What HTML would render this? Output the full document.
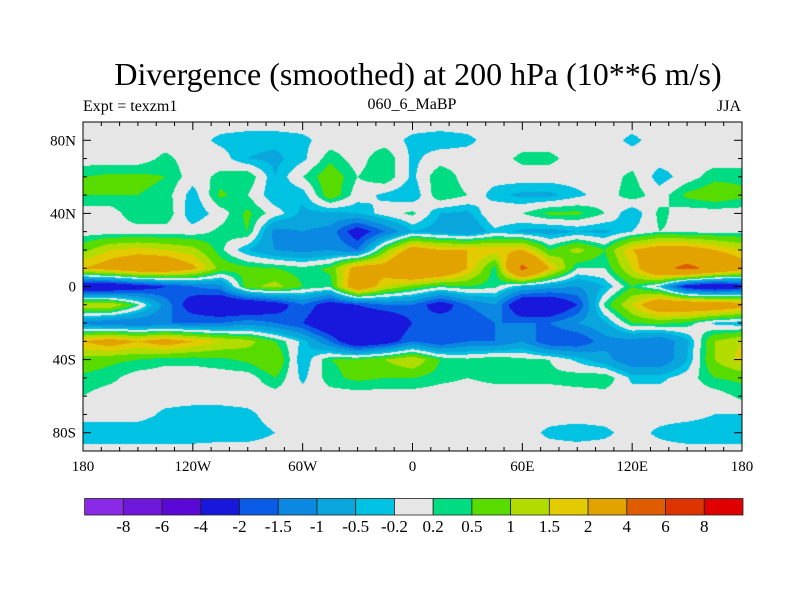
<!DOCTYPE html>
<html><head><meta charset="utf-8"><style>
body{margin:0;background:#fff;width:800px;height:600px;overflow:hidden;position:relative;font-family:"Liberation Serif",serif;}
.t{position:absolute;white-space:nowrap;color:#000;}
</style></head><body>
<div class="t" style="left:0;width:836px;text-align:center;top:56px;font-size:32px;">Divergence (smoothed) at 200 hPa (10**6 m/s)</div>
<div class="t" style="left:83px;top:98px;font-size:16px;">Expt = texzm1</div>
<div class="t" style="left:312px;width:200px;text-align:center;top:96px;font-size:16px;">060_6_MaBP</div>
<div class="t" style="left:700px;width:41px;text-align:right;top:98px;font-size:16px;">JJA</div>
<canvas id="map" width="659" height="329" style="position:absolute;left:83px;top:122px;"></canvas>
<svg id="ov" width="800" height="600" style="position:absolute;left:0;top:0"></svg>
<script>
const lons=[-180,-165,-150,-135,-120,-105,-90,-75,-60,-45,-30,-15,0,15,30,45,60,75,90,105,120,135,150,165,180];
const lats=[90,80,70,60,50,40,30,20,10,0,-10,-20,-30,-40,-50,-60,-70,-80,-90];
const row90=[0,0,0,0,0,0,0,0,0,0,0,0,0,0,0,0,0,0,0,0,0,0,0,0,0];
const row80=[0,0,0,0,0,-0.3,-0.4,-0.4,-0.3,0,0,0,-0.3,-0.4,-0.3,0,0,0,0,0,-0.3,0,0,0,0];
const row70=[0,0,0,0.3,0,0,-0.5,-0.6,-0.3,0.4,0,0.5,-0.3,0,0,0,0.3,0.3,0,0,0,0,0,0,0];
const row60=[0.5,0.6,0.6,0.5,0,0.3,0.5,-0.5,0.2,0.8,0.2,0.5,-0.3,0.5,0,0,0,0,0,0,0.3,-0.4,0,0.4,0.4];
const row50=[0.5,0.5,0.5,0.4,-0.4,0.6,0.2,-0.5,-0.4,0.8,0,-0.3,-0.5,0.5,0.2,-0.4,-0.6,-0.6,-0.3,0,0.4,0,0.6,0.8,0.6];
const row40=[0,0,0.5,0.5,-0.5,0,0.6,0,-0.6,-0.6,-0.5,0,0.3,-0.5,-0.6,0.2,0.2,0.6,0.6,0.2,-0.5,0.3,0,0,0];
const row30=[0,0,0,0,0,0.3,0.5,-1.2,-1.0,-1.2,-2.5,-1.5,-0.5,-0.7,-1.0,-0.3,-0.6,-0.7,-0.5,-0.6,-0.2,0.2,0.1,0.1,0.1];
const row20=[0.8,1.5,1.7,1.5,1.2,0.3,-0.5,-1.0,-1.2,-1.0,-1.5,0.8,2.5,2.0,2.0,1.8,2.0,0.5,1.2,0.5,2.0,2.5,2.5,2.0,1.5];
const row10=[2.0,2.5,3,3,2.2,0.8,0.6,0.5,0.3,0.6,2.5,2.5,4,3.5,2.0,0.3,4.5,2.0,0.2,0.2,1.5,3.5,4.5,3.5,2.5];
const row0=[-3,-3,-2.5,-2,-1.5,-1.2,0.8,1.2,0.5,0.3,3.0,1.5,0.8,0.3,0.5,0.3,-0.5,-0.8,-1.0,-0.5,0.5,-0.3,-2.5,-3,-2.5];
const rowS10=[1.5,1.5,0.3,-1.2,-2.5,-3,-3,-2.5,-1.5,-2.5,-2,-1.5,-1.5,-2.5,-1.5,-1.0,-3,-3,-2.0,0.3,1.5,3,3,3,2.5];
const rowS20=[-1.2,-1.5,-1.5,-1.5,-1.5,-1.5,-1.2,-1.5,-2,-3,-3,-3,-2,-1.5,-2,-1.5,-1.5,-1.5,-1.0,-0.6,0.5,0.6,0.4,-0.3,-0.5];
const rowS30=[2.0,2.5,2.0,2.5,2.0,1.5,1.2,0.5,-0.3,-1.5,-3,-2.5,-1.5,-2,-1.5,-1.5,-1.0,-2,-2,-1.2,-1.2,-1.5,-0.6,1.0,1.5];
const rowS40=[0.8,0.6,0.5,0.3,0.3,0.4,0.6,1.0,-0.5,0.5,0.6,1.0,1.5,0.5,0.3,0.5,0.3,0.2,-0.3,-0.8,-1.5,-1.5,-0.5,1.0,1.7];
const rowS50=[0.4,0.3,0,0,0,0,0,0.5,-0.3,0.4,0.6,0.5,0.5,0.3,0.2,0.3,0.3,0.3,0.4,0.5,-0.3,-0.3,0,0.5,0.6];
const rowS60=[0.2,0,0,0,0,0,0,0,0,0,0,0,0,0,0,0,0,0,0,0,0,0,0,0,0.3];
const rowS70=[0,0,0,-0.3,-0.4,-0.4,-0.3,0,0,0,0,0,0,0,0,0,0,0,0,0,0,0,0,-0.2,-0.2];
const rowS80=[-0.5,-0.5,-0.5,-0.5,-0.5,-0.4,-0.4,-0.2,0,0,0,0,0,0,0,0,0,-0.3,-0.4,-0.3,0,-0.3,-0.5,-0.5,-0.5];
const rowS90=[0,0,0,0,0,0,0,0,0,0,0,0,0,0,0,0,0,0,0,0,0,0,0,0,0];
const levels=[-8,-6,-4,-2,-1.5,-1,-0.5,-0.2,0.2,0.5,1,1.5,2,4,6,8];
const levelLabels=["-8","-6","-4","-2","-1.5","-1","-0.5","-0.2","0.2","0.5","1","1.5","2","4","6","8"];
const colors=["#8a2ae6","#6e18dc","#5a08d6","#1818dc","#0a5ce6","#0a88e2","#08a6dc","#00c2e2","#e6e6e6","#00dc82","#58dc00","#b2dc00","#e2cc00","#e2a200","#e05c00","#e03400","#e00000"];
const xLabels=["180","120W","60W","0","60E","120E","180"];
const xLabelLons=[-180,-120,-60,0,60,120,180];
const yLabels=["80N","40N","0","40S","80S"];
const yLabelLats=[80,40,0,-40,-80];
const grid=[row90,row80,row70,row60,row50,row40,row30,row20,row10,row0,rowS10,rowS20,rowS30,rowS40,rowS50,rowS60,rowS70,rowS80,rowS90];

const X0=83,X1=742,Y0=122,Y1=451;
const xs=lon=>X0+(lon+180)/360*(X1-X0);
const ys=lat=>Y0+(90-lat)/180*(Y1-Y0);
function colorIdx(v){let i=0;while(i<levels.length&&v>=levels[i])i++;return i;}
function hex(c){return [parseInt(c.substr(1,2),16),parseInt(c.substr(3,2),16),parseInt(c.substr(5,2),16)];}
const rgb=colors.map(hex);
const cv=document.getElementById('map'),ctx=cv.getContext('2d');
const W=cv.width,H=cv.height,img=ctx.createImageData(W,H);
const dlon=lons[1]-lons[0],dlat=lats[0]-lats[1];
for(let py=0;py<H;py++){
  const lat=90-(py+0.5)/H*180;
  let fy=(lats[0]-lat)/dlat;let j=Math.min(Math.floor(fy),lats.length-2);let ty=fy-j;
  for(let px=0;px<W;px++){
    const lon=-180+(px+0.5)/W*360;
    let fx=(lon-lons[0])/dlon;let i=Math.min(Math.floor(fx),lons.length-2);let tx=fx-i;
    const v=(grid[j][i]*(1-tx)+grid[j][i+1]*tx)*(1-ty)+(grid[j+1][i]*(1-tx)+grid[j+1][i+1]*tx)*ty;
    const c=rgb[colorIdx(v)];const k=(py*W+px)*4;
    img.data[k]=c[0];img.data[k+1]=c[1];img.data[k+2]=c[2];img.data[k+3]=255;
  }
}
ctx.putImageData(img,0,0);

const NS='http://www.w3.org/2000/svg',svg=document.getElementById('ov');
function el(t,a){const e=document.createElementNS(NS,t);for(const k in a)e.setAttribute(k,a[k]);svg.appendChild(e);return e;}
const frame=el('rect',{x:X0,y:Y0,width:X1-X0,height:Y1-Y0,fill:'none',stroke:'#000','stroke-width':1});


for(let lon=-180;lon<=180;lon+=10){
  const L=(lon%60===0)?8:4;const x=xs(lon);
  el('line',{x1:x,y1:Y0,x2:x,y2:Y0+L,stroke:'#000'});
  el('line',{x1:x,y1:Y1,x2:x,y2:Y1-L,stroke:'#000'});
}
for(let lat=-90;lat<=90;lat+=10){
  const L=(lat%40===0)?8:4;const y=ys(lat);
  el('line',{x1:X0,y1:y,x2:X0+L,y2:y,stroke:'#000'});
  el('line',{x1:X1,y1:y,x2:X1-L,y2:y,stroke:'#000'});
}
xLabels.forEach((s,i)=>{
  const t=el('text',{x:xs(xLabelLons[i]),y:471,'text-anchor':'middle','font-size':15,'font-family':'Liberation Serif, serif'});
  t.textContent=s;
  
  
});
yLabels.forEach((s,i)=>{
  const t=el('text',{x:76,y:ys(yLabelLats[i])+5,'text-anchor':'end','font-size':15,'font-family':'Liberation Serif, serif'});
  t.textContent=s;
  
  
});
const CB0=84.6,CB1=743,CBY=498.5,CBH=16.5,bw=(CB1-CB0)/colors.length;
colors.forEach((c,i)=>{
  const r=el('rect',{x:CB0+i*bw,y:CBY,width:bw,height:CBH,fill:c,stroke:'#222','stroke-width':0.8});
  
  
});
levelLabels.forEach((s,i)=>{
  const t=el('text',{x:CB0+(i+1)*bw,y:532,'text-anchor':'middle','font-size':17,'font-family':'Liberation Serif, serif'});
  t.textContent=s;
  
  
});
</script>
</body></html>
